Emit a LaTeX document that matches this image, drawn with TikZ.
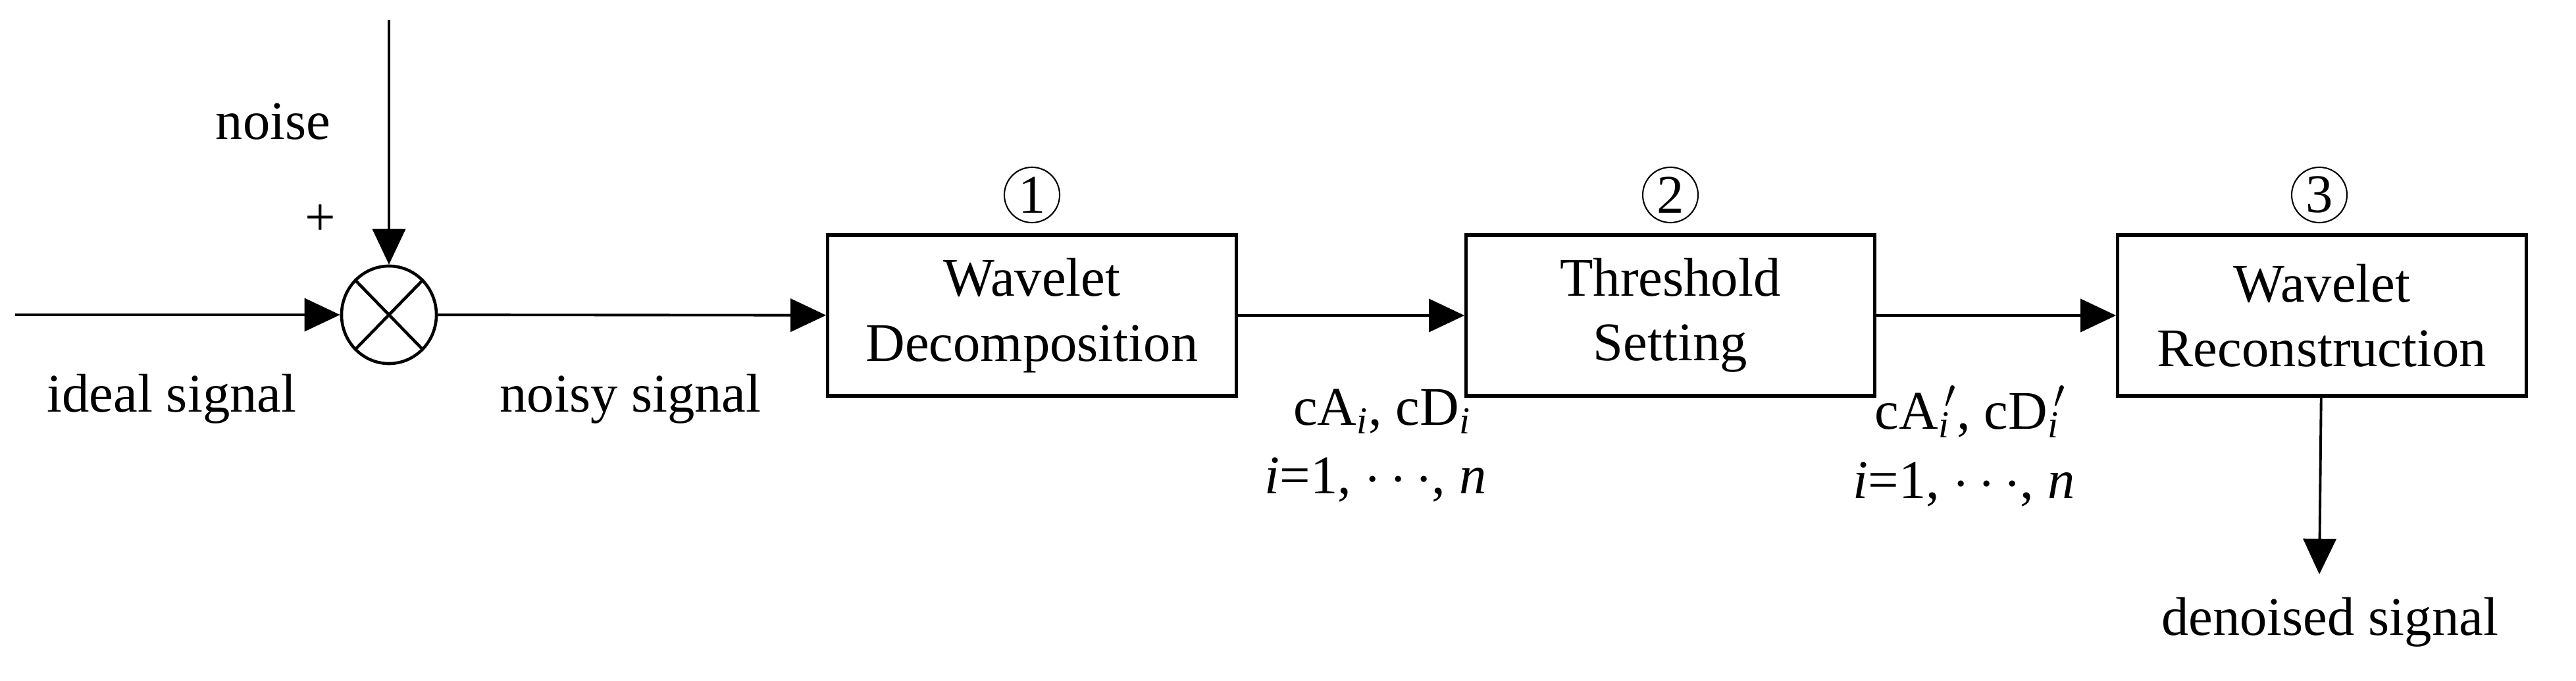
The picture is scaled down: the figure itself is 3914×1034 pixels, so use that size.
\documentclass[tikz,border=0pt]{standalone}
\usepackage{fontspec}
\setmainfont{Liberation Serif}
\usetikzlibrary{arrows.meta,shapes.geometric}
\begin{document}
\begin{tikzpicture}[x=0.01cm,y=-0.01cm,
  every node/.style={font=\fontsize{23.5}{28}\selectfont},
  box/.style={draw,line width=1.5pt,minimum width=6.2cm,minimum height=2.44cm,align=center,inner sep=0pt},
  arr/.style={line width=1.1pt,-{Triangle[length=0.54cm,width=0.5cm]}},
  num/.style={draw,circle,line width=0.6pt,minimum size=0.84cm,inner sep=0pt}]
\useasboundingbox (0,0) rectangle (3914,1034);
\node[draw,ellipse,line width=1.3pt,minimum width=1.44cm,minimum height=1.48cm,inner sep=0pt] (sum) at (591,478) {};
\draw[line width=1.3pt] (sum.north west) -- (sum.south east) (sum.north east) -- (sum.south west);
\coordinate (in) at (23,478);
\coordinate (ntop) at (591,30);
\node[box] (b1) at (1568,479) {Wavelet\\Decomposition};
\node[box] (b2) at (2538,479) {Threshold\\Setting};
\node[box] (b3) at (3528,479) {Wavelet\\Reconstruction};
\coordinate (out) at (3524,872);
\draw[arr] (in) -- (sum);
\draw[arr] (ntop) -- (sum);
\draw[arr] (sum) -- (b1);
\draw[arr] (b1) -- (b2);
\draw[arr] (b2) -- (b3);
\draw[arr] (b3) -- (out);
\node (noise) at (415,185) {noise};
\node (plus) at (487,334) {+};
\node (ideal) at (261,606) {ideal signal};
\node (noisy) at (958,606) {noisy signal};
\node[num] (n1) at (1568,296) {1};
\node[num] (n2) at (2538,296) {2};
\node[num] (n3) at (3524,296) {3};
\node (c1) at (2100,625) {cA\textsubscript{\textit{i}}, cD\textsubscript{\textit{i}}};
\node (i1) at (2090,728) {\textit{i}=1, $\cdots$, \textit{n}};
\node (c2) at (2994,625) {cA\rlap{\textsubscript{\textit{i}}}\textsuperscript{\,$\prime$}, cD\rlap{\textsubscript{\textit{i}}}\textsuperscript{\,$\prime$}};
\node (i2) at (2984,735) {\textit{i}=1, $\cdots$, \textit{n}};
\node (den) at (3540,945) {denoised signal};
\end{tikzpicture}
\end{document}
